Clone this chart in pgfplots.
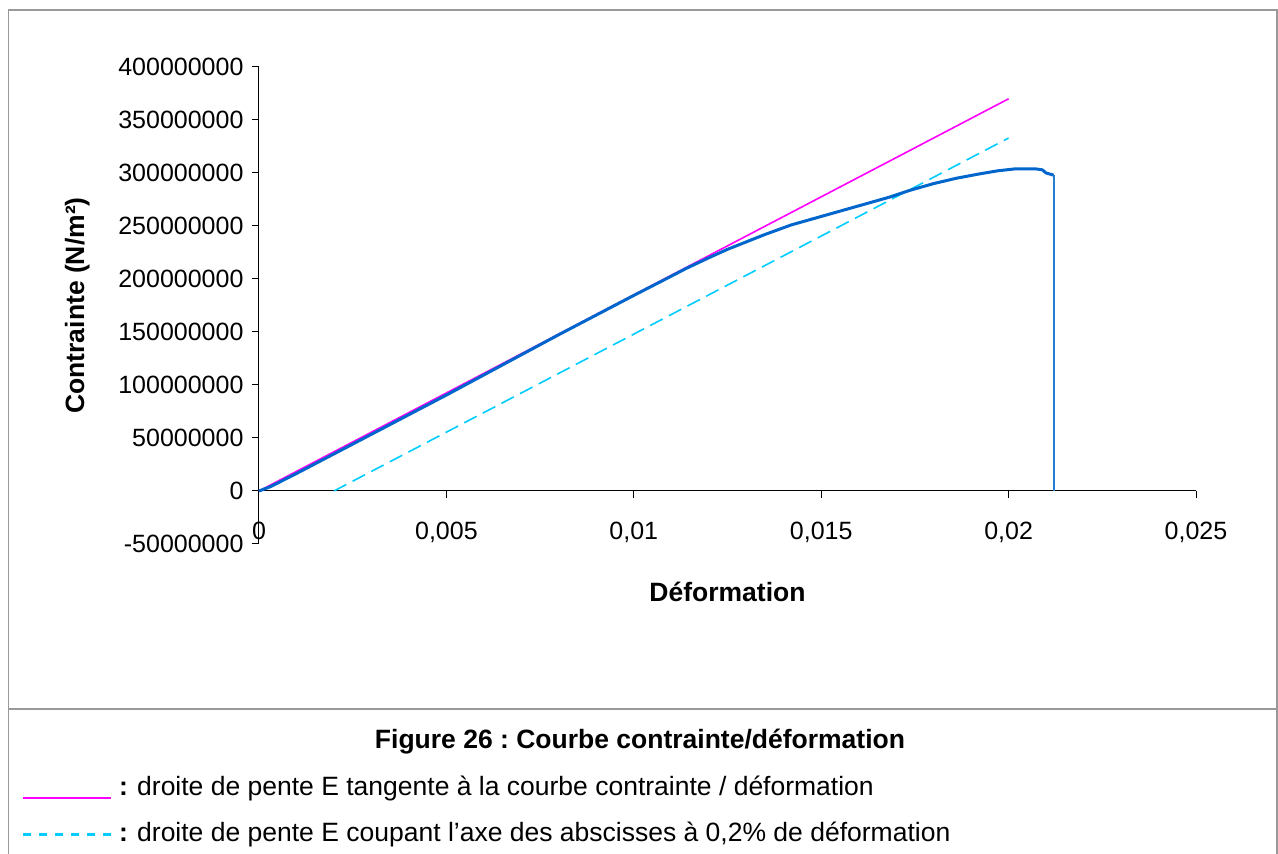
\documentclass[border=0pt]{standalone}
\usepackage{pgfplots}
\pgfplotsset{compat=1.18}
\usepackage{fontspec}
\setmainfont{Liberation Sans}
\frenchspacing

\definecolor{framegray}{RGB}{153,153,153}
\definecolor{curveblue}{RGB}{0,102,204}
\definecolor{tanmag}{RGB}{255,0,255}
\definecolor{offcyan}{RGB}{0,204,255}

\begin{document}
\begin{tikzpicture}[x=1pt,y=1pt]
\path[use as bounding box] (0,0) rectangle (1278,854);

% frame and caption box
\draw[framegray,line width=1.5pt] (8.5,0) -- (8.5,844) -- (1277,844) -- (1277,0);
\draw[framegray,line width=1.5pt] (8.5,145) -- (1277,145);

\begin{axis}[
  at={(259pt,310pt)}, anchor=south west,
  width=937pt, height=477pt, scale only axis,
  xmin=0, xmax=0.025, ymin=-50000000, ymax=400000000,
  axis x line*=middle, axis y line*=left,
  hide obscured x ticks=false,
  axis line style={black, line width=1pt},
  tick style={black, line width=1pt},
  tick align=outside, major tick length=7pt,
  xtick={0,0.005,0.01,0.015,0.02,0.025},
  xticklabels={0,{0,005},{0,01},{0,015},{0,02},{0,025}},
  ytick={-50000000,0,50000000,100000000,150000000,200000000,250000000,300000000,350000000,400000000},
  yticklabels={-50000000,0,50000000,100000000,150000000,200000000,250000000,300000000,350000000,400000000},
  scaled ticks=false,
  /pgf/number format/assume math mode=true,
  ticklabel style={font=\fontsize{25}{30}\selectfont},
  xticklabel style={yshift=-21pt},
  yticklabel style={xshift=-5pt},
  xlabel={Déformation},
  xlabel style={at={(axis description cs:0.5,0)}, anchor=base, yshift=-58pt,
    font=\bfseries\fontsize{26.5}{30}\selectfont},
  ylabel={Contrainte (N/m²)},
  ylabel style={at={(axis description cs:-0.194,0.5)}, anchor=center,
    font=\bfseries\fontsize{26.5}{30}\selectfont},
  clip=false,
]
% droite de pente E passant par 0,2 %
\addplot[offcyan, line width=1.6pt, dash pattern=on 14pt off 7pt] coordinates {(0.002,0) (0.02,333000000)};
% droite tangente
\addplot[tanmag, line width=1.6pt] coordinates {(0,0) (0.02,370000000)};
% courbe contrainte / deformation
\addplot[curveblue, line width=3pt, line join=round] coordinates {
(0,0) (0.0003,4000000) (0.001,16500000) (0.002,35000000) (0.003,53500000)
(0.004,72000000) (0.005,90500000) (0.006,109500000) (0.007,128500000)
(0.008,147500000) (0.009,166000000) (0.010,184500000) (0.0108,199000000)
(0.0114,210000000) (0.0120,220000000) (0.0125,228000000) (0.0130,235000000)
(0.0135,242000000) (0.0142,251000000) (0.0150,259000000) (0.0156,265000000)
(0.0162,271000000) (0.0168,277000000) (0.0174,284000000) (0.0180,290000000)
(0.0186,295000000) (0.0192,299000000) (0.0197,302000000) (0.0202,304000000)
(0.0207,304000000) (0.0209,303000000) (0.0210,300000000) (0.0212,298000000)};
\addplot[curveblue!85!white, line width=2pt] coordinates {(0.0212,298000000) (0.0212,0)};
\end{axis}

% caption and legend
\node[anchor=base, font=\bfseries\fontsize{26.5}{30}\selectfont] at (640,105) {Figure 26 : Courbe contrainte/déformation};
\draw[tanmag, line width=1.5pt] (23,56) -- (111,56);
\node[anchor=base west, inner sep=0pt, font=\bfseries\fontsize{26.5}{30}\selectfont] at (119,58) {:};
\node[anchor=base west, inner sep=0pt, font=\fontsize{26.5}{30}\selectfont] at (137,58) {droite de pente E tangente à la courbe contrainte / déformation};
\draw[offcyan, line width=3pt, dash pattern=on 8pt off 8pt] (23,19) -- (111,19);
\node[anchor=base west, inner sep=0pt, font=\bfseries\fontsize{26.5}{30}\selectfont] at (119,12) {:};
\node[anchor=base west, inner sep=0pt, font=\fontsize{26.5}{30}\selectfont] at (137,12) {droite de pente E coupant l’axe des abscisses à 0,2\% de déformation};
\end{tikzpicture}
\end{document}
